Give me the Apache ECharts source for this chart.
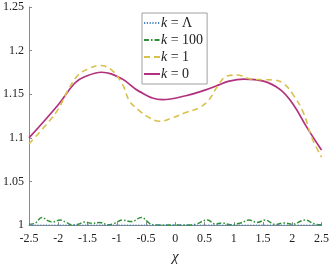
<!DOCTYPE html>
<html><head><meta charset="utf-8">
<script src="https://cdn.jsdelivr.net/npm/echarts@6/dist/echarts.min.js"></script>
<style>html,body{margin:0;padding:0;background:#fff}#c{width:332px;height:270px}</style>
</head><body><div id="c"></div>
<script>
var seriesNames = ['k = Λ', 'k = 100', 'k = 1', 'k = 0'];
var xTicks = [-2.5, -2, -1.5, -1, -0.5, 0, 0.5, 1, 1.5, 2, 2.5];
var yTicks = [1, 1.05, 1.1, 1.15, 1.2, 1.25];

var chiLambda = [-2.5, -1.25, 0, 1.25, 2.5];
var kLambda = [1, 1, 1, 1, 1];

var chi100 = [-2.5, -2.4, -2.28, -2.17, -2.09, -1.97, -1.86, -1.77, -1.66, -1.55, -1.43, -1.29, -1.15, -1.04, -0.9, -0.75, -0.58, -0.44, -0.33, -0.07, 0.24, 0.35, 0.55, 0.69, 0.8, 0.95, 1.12, 1.26, 1.4, 1.54, 1.71, 1.85, 2.0, 2.22, 2.39, 2.5];
var k100 = [1.001, 1.002, 1.0088, 1.0048, 1.0036, 1.0058, 1.003, 1.0003, 1.001, 1.0036, 1.002, 1.003, 1.0003, 1.002, 1.0058, 1.004, 1.0088, 1.002, 1.0, 1.0, 1.0, 1.001, 1.0058, 1.001, 1.0025, 1.0003, 1.0025, 1.0058, 1.003, 1.0058, 1.0007, 1.0025, 1.001, 1.0058, 1.001, 1.0003];

var chi1 = [-2.5, -2.17, -2.0, -1.83, -1.66, -1.49, -1.29, -1.09, -0.9, -0.78, -0.61, -0.44, -0.27, -0.05, 0.18, 0.41, 0.58, 0.72, 0.89, 1.06, 1.29, 1.51, 1.68, 1.85, 2.02, 2.19, 2.33, 2.5];
var k1 = [1.093, 1.118, 1.133, 1.155, 1.172, 1.179, 1.183, 1.178, 1.161, 1.142, 1.131, 1.123, 1.119, 1.123, 1.129, 1.1345, 1.144, 1.159, 1.171, 1.172, 1.1674, 1.1667, 1.1663, 1.1625, 1.149, 1.129, 1.101, 1.078];

var chi0 = [-2.5, -2.0, -1.72, -1.55, -1.26, -0.92, -0.61, -0.22, 0.18, 0.52, 0.75, 0.89, 1.17, 1.51, 1.8, 2.02, 2.25, 2.5];
var k0 = [1.1, 1.138, 1.1626, 1.17, 1.1752, 1.168, 1.153, 1.1438, 1.1483, 1.155, 1.1607, 1.1645, 1.1674, 1.165, 1.155, 1.138, 1.112, 1.086];

function pairs(xs, ys) { return xs.map(function (x, i) { return [x, ys[i]]; }); }

var font = 'Liberation Serif';
var chart = echarts.init(document.getElementById('c'), null, {renderer: 'canvas'});
chart.setOption({
  animation: false,
  backgroundColor: '#fff',
  grid: {left: 29, right: 9, top: 7, bottom: 40, containLabel: false},
  xAxis: {
    type: 'value', min: xTicks[0], max: xTicks[xTicks.length - 1], interval: 0.5,
    name: 'χ', nameLocation: 'middle', nameGap: 24,
    nameTextStyle: {fontFamily: font, fontStyle: 'italic', fontSize: 15, color: '#222'},
    axisLine: {onZero: false, lineStyle: {color: '#8a8a8a', width: 1}},
    axisTick: {inside: true, length: 3, lineStyle: {color: '#8a8a8a'}},
    axisLabel: {fontFamily: font, fontSize: 12, color: '#222', margin: 8},
    splitLine: {show: false}
  },
  yAxis: {
    type: 'value', min: yTicks[0], max: yTicks[yTicks.length - 1], interval: 0.05,
    axisLine: {show: true, onZero: false, lineStyle: {color: '#8a8a8a', width: 1}},
    axisTick: {show: true, inside: true, length: 3, lineStyle: {color: '#8a8a8a'}},
    axisLabel: {fontFamily: font, fontSize: 12, color: '#222', margin: 5},
    splitLine: {show: false}
  },
  legend: {
    orient: 'vertical', left: 142, top: 13,
    backgroundColor: '#fff', borderColor: '#a0a0a0', borderWidth: 1,
    padding: [3, 4, 3, 1], itemGap: 3, itemWidth: 16, itemHeight: 12,
    itemStyle: {opacity: 0},
    data: seriesNames,
    formatter: function (n) { return '{i|k}' + n.slice(1); },
    textStyle: {fontFamily: font, fontSize: 14, color: '#222', padding: [0, 0, 0, -4],
      rich: {i: {fontFamily: font, fontStyle: 'italic', fontSize: 14, color: '#222'}}}
  },
  series: [
    {name: seriesNames[0], type: 'line', showSymbol: false, symbol: 'none', clip: false, data: pairs(chiLambda, kLambda),
      lineStyle: {color: '#4a84c4', width: 1.3, type: [1.2, 1.6]}, itemStyle: {color: '#4a84c4'}, z: 5},
    {name: seriesNames[1], type: 'line', showSymbol: false, symbol: 'none', clip: false, smooth: 0.4, data: pairs(chi100, k100),
      lineStyle: {color: '#2f8f35', width: 1.5, type: [5, 2, 1.5, 2]}, itemStyle: {color: '#2f8f35'}, z: 4},
    {name: seriesNames[2], type: 'line', showSymbol: false, symbol: 'none', smooth: 0.4, data: pairs(chi1, k1),
      lineStyle: {color: '#d8c04c', width: 1.6, type: [6, 4]}, itemStyle: {color: '#d8c04c'}, z: 3},
    {name: seriesNames[3], type: 'line', showSymbol: false, symbol: 'none', smooth: 0.4, data: pairs(chi0, k0),
      lineStyle: {color: '#b3307e', width: 1.7, type: 'solid'}, itemStyle: {color: '#b3307e'}, z: 2}
  ]
});
</script></body></html>
